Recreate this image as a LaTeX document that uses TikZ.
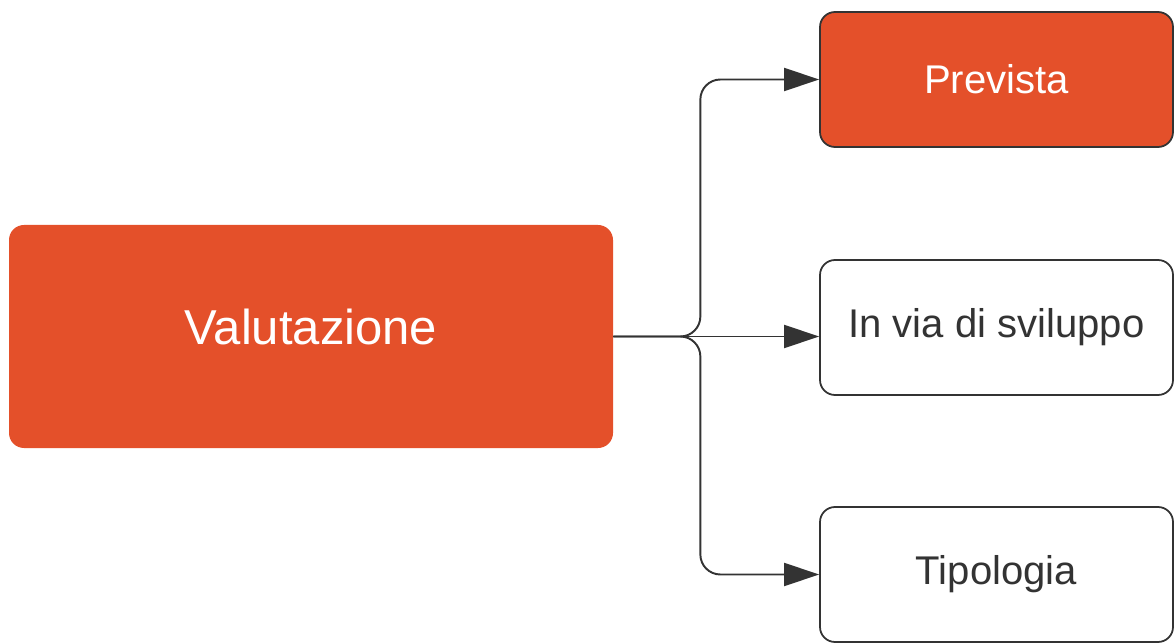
\documentclass[tikz,border=0pt]{standalone}
\usepackage{fontspec}
\setmainfont{Liberation Sans}
\usetikzlibrary{positioning,arrows.meta,calc}
\definecolor{vermilion}{HTML}{E4502A}
\definecolor{ink}{HTML}{333333}

\begin{document}
\begin{tikzpicture}[
    mainBox/.style={rectangle, rounded corners=0.3cm, fill=vermilion, text=white, minimum width=12.08cm, minimum height=4.46cm, font=\fontsize{27.9}{32}\selectfont, inner sep=0pt, text depth=0.4cm},
    leafBox/.style={rectangle, rounded corners=0.3cm, draw=ink, line width=1pt, fill=white, text=ink, minimum width=7.06cm, minimum height=2.7cm, font=\fontsize{22.8}{27}\selectfont, inner sep=0pt},
    hotBox/.style={leafBox, fill=vermilion, text=white},
    arrowStyle/.style={-{Triangle[length=0.7cm,width=0.46cm]}, line width=1.1pt, draw=ink, rounded corners=0.4cm}
]
    \useasboundingbox (0,0) rectangle (23.5,12.84);

    \node[mainBox] (valutazione) at (6.22,6.11) {Valutazione};

    \node[hotBox] (prevista) at (19.93,11.25) {Prevista};
    \node[leafBox] (sviluppo) at (19.93,6.29) {In via di sviluppo};
    \node[leafBox] (tipologia) at (19.93,1.35) {Tipologia};

    \coordinate (split) at ($(valutazione.east)+(1.74,0)$);

    \draw[arrowStyle] (valutazione.east) -- (split) |- (prevista.west);
    \draw[arrowStyle] (valutazione.east) -- (sviluppo.west |- valutazione.east);
    \draw[arrowStyle] (valutazione.east) -- (split) |- (tipologia.west);
\end{tikzpicture}
\end{document}
